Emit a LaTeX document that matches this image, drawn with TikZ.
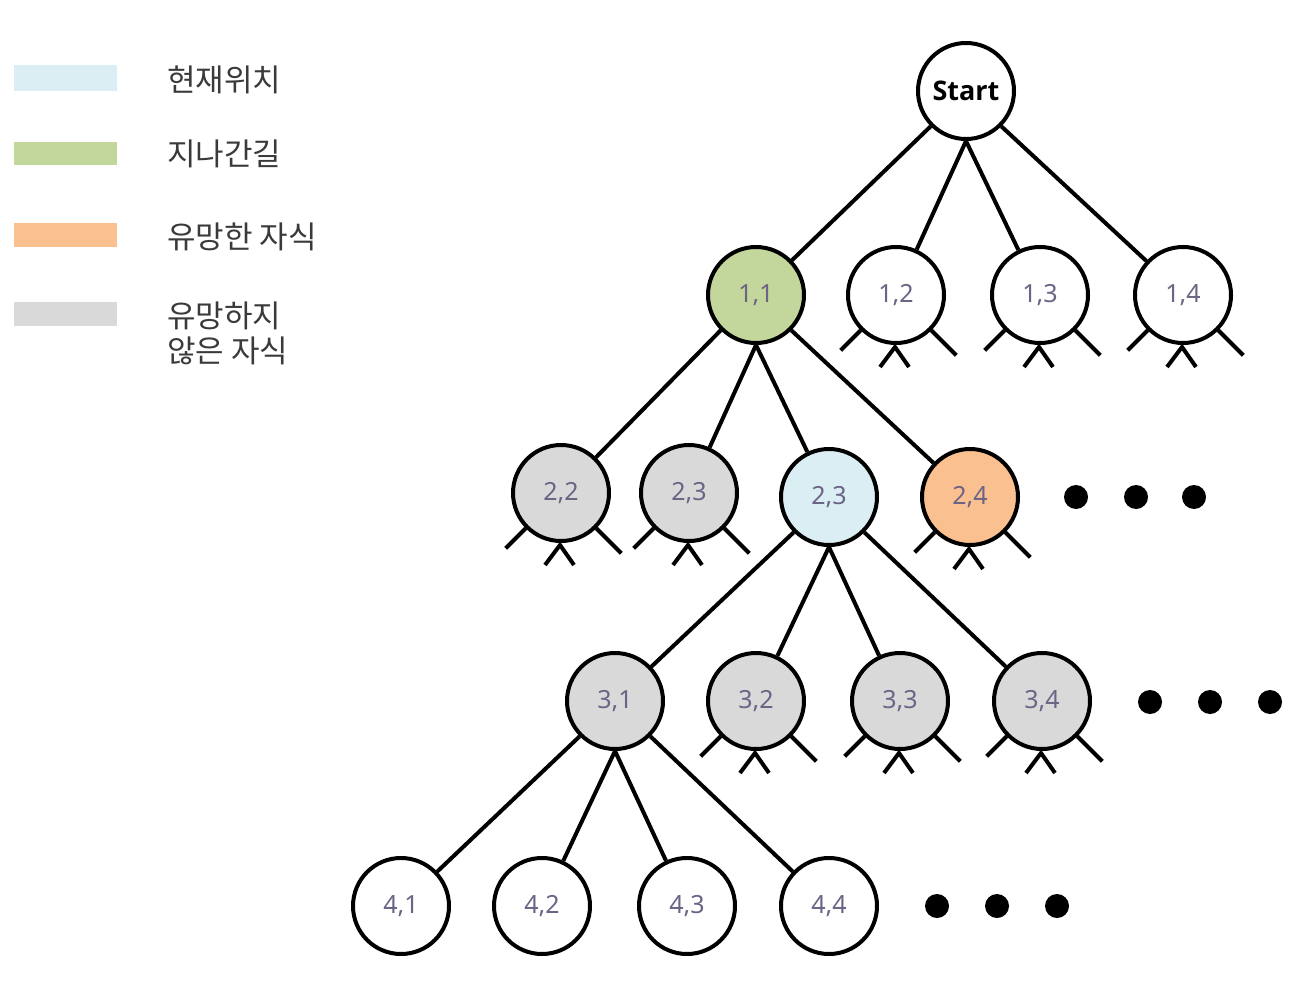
\documentclass[tikz,border=0pt]{standalone}
\usepackage{fontspec}
\setmainfont{Noto Sans}
\newfontfamily\kr{Noto Sans CJK KR}
\newfontfamily\stfont{Open Sans}[BoldFont={* Bold}]
\usetikzlibrary{calc}
\definecolor{cblue}{HTML}{DBEEF4}
\definecolor{cgreen}{HTML}{C3D69B}
\definecolor{corange}{HTML}{FAC090}
\definecolor{cgray}{HTML}{D9D9D9}
\definecolor{numc}{HTML}{6B6485}
\definecolor{legtext}{HTML}{3A3A3A}
\newcommand\mystubs[1]{%
  \draw[edgeline] (#1.225) -- ++(-20,20);
  \draw[edgeline] (#1.-45) -- ++(25,25);
  \draw[edgeline] ($(#1.south)+(-16,22)$) -- ($(#1.south)+(-1,2)$) -- ($(#1.south)+(13,22)$);
}
\begin{document}
\begin{tikzpicture}[x=0.5pt,y=-0.5pt,
  st/.style={circle,draw,line width=2pt,minimum size=48pt,inner sep=0pt,
    font=\fontsize{12.5}{14}\selectfont,text=numc,fill=white},
  edgeline/.style={line width=2pt},
  legtxt/.style={anchor=west,font=\kr\fontsize{15.5}{17.5}\selectfont,text=legtext,align=left,inner sep=0pt},
  dot/.style={fill=black}]
\useasboundingbox (0,0) rectangle (1307,990);
% legend
\fill[cblue] (14,65) rectangle (117,91);
\fill[cgreen] (14,142) rectangle (117,165);
\fill[corange] (14,223) rectangle (117,247);
\fill[cgray] (14,302) rectangle (117,326);
\node[legtxt] (l1) at (167,80) {현재위치};
\node[legtxt] (l2) at (167,154) {지나간길};
\node[legtxt] (l3) at (167,237) {유망한 자식};
\node[legtxt] (l4) at (167,333) {유망하지\\않은 자식};
% nodes
\node[st,text=black,font=\stfont\bfseries\fontsize{13.5}{15}\selectfont] (s) at (966,91) {Start};
\node[st,fill=cgreen] (n11) at (756,295) {1,1};
\node[st] (n12) at (896,295) {1,2};
\node[st] (n13) at (1040,295) {1,3};
\node[st] (n14) at (1183,295) {1,4};
\node[st,fill=cgray] (n22) at (561,493) {2,2};
\node[st,fill=cgray] (n23) at (689,493) {2,3};
\node[st,fill=cblue] (n23b) at (829,497) {2,3};
\node[st,fill=corange] (n24) at (970,497) {2,4};
\node[st,fill=cgray] (n31) at (615,701) {3,1};
\node[st,fill=cgray] (n32) at (756,701) {3,2};
\node[st,fill=cgray] (n33) at (900,701) {3,3};
\node[st,fill=cgray] (n34) at (1042,701) {3,4};
\node[st] (n41) at (401,906) {4,1};
\node[st] (n42) at (542,906) {4,2};
\node[st] (n43) at (687,906) {4,3};
\node[st] (n44) at (829,906) {4,4};
% edges
\draw[edgeline] (s.225) -- (n11);
\draw[edgeline] (s.south) -- (n12);
\draw[edgeline] (s.south) -- (n13);
\draw[edgeline] (s.-45) -- (n14);
\draw[edgeline] (n11.225) -- (n22);
\draw[edgeline] (n11.south) -- (n23);
\draw[edgeline] (n11.south) -- (n23b);
\draw[edgeline] (n11.-45) -- (n24);
\draw[edgeline] (n23b.225) -- (n31);
\draw[edgeline] (n23b.south) -- (n32);
\draw[edgeline] (n23b.south) -- (n33);
\draw[edgeline] (n23b.-45) -- (n34);
\draw[edgeline] (n31.225) -- (n41);
\draw[edgeline] (n31.south) -- (n42);
\draw[edgeline] (n31.south) -- (n43);
\draw[edgeline] (n31.-45) -- (n44);
% stubs
\mystubs{n12}
\mystubs{n13}
\mystubs{n14}
\mystubs{n22}
\mystubs{n23}
\mystubs{n24}
\mystubs{n32}
\mystubs{n33}
\mystubs{n34}
% dots
\foreach \x in {1076,1136,1194} \fill[dot] (\x,497) circle[radius=6pt];
\foreach \x in {1150,1210,1270} \fill[dot] (\x,702) circle[radius=6pt];
\foreach \x in {937,997,1057} \fill[dot] (\x,906) circle[radius=6pt];
\end{tikzpicture}
\end{document}
